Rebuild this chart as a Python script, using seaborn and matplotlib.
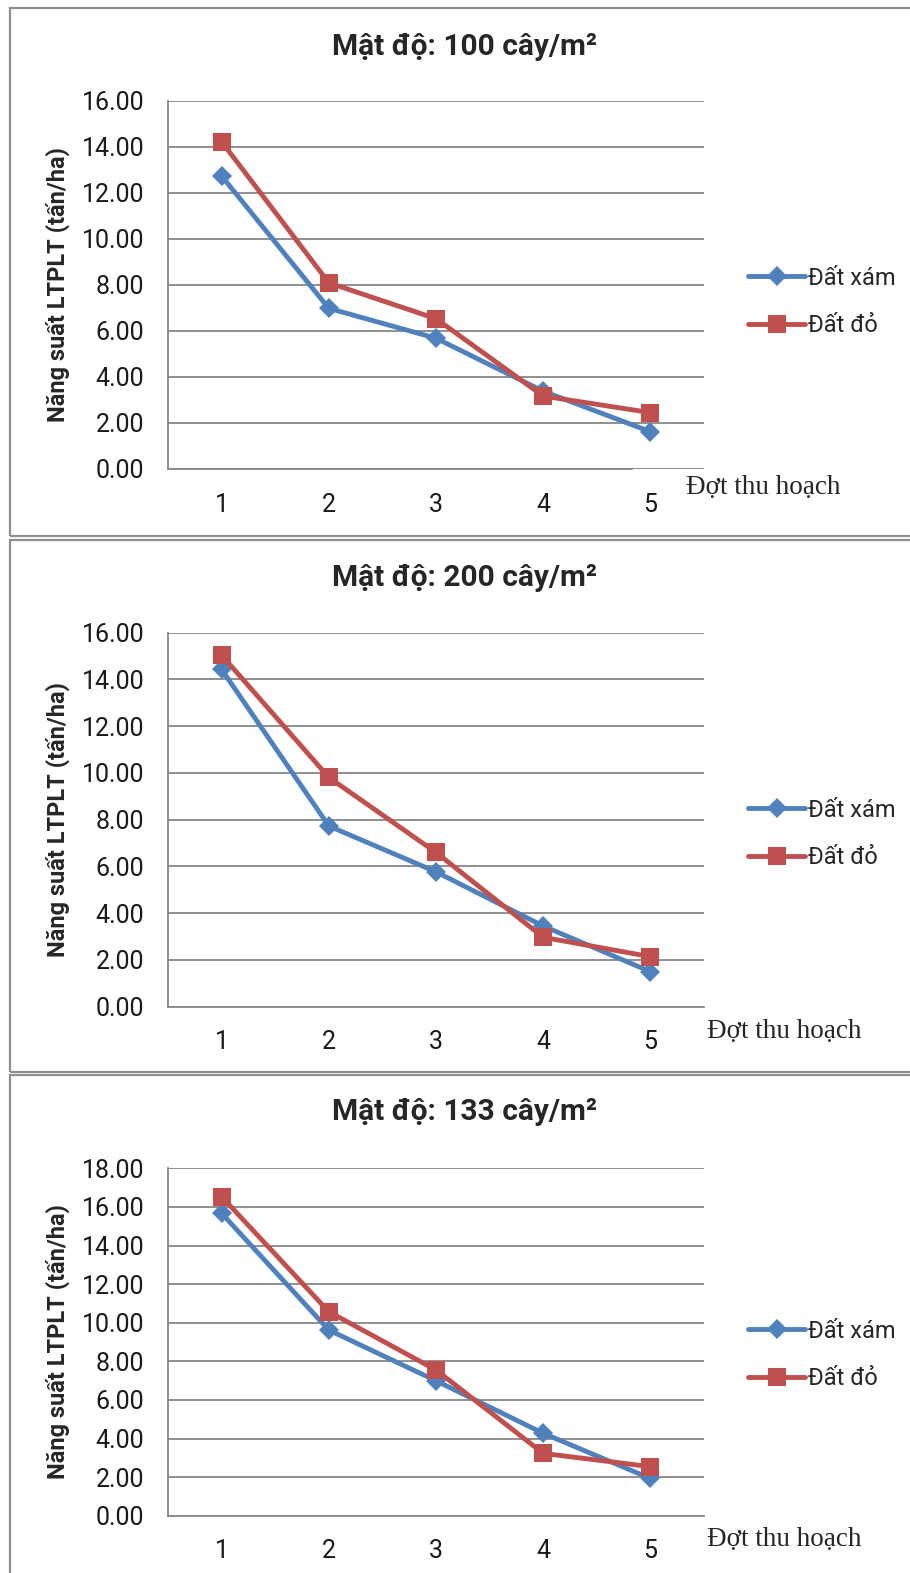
import pandas as pd
import matplotlib
matplotlib.use("Agg")
import matplotlib.pyplot as plt
from matplotlib.patches import Rectangle
import seaborn as sns

# ===========================
# DATA
# ===========================
dot_thu_hoach = [1, 2, 3, 4, 5]
series_names = ["Đất xám", "Đất đỏ"]

# mật độ 100 cây/m2
xam_100 = [12.73, 6.98, 5.68, 3.38, 1.62]
do_100 = [14.22, 8.09, 6.53, 3.17, 2.45]

# mật độ 200 cây/m2
xam_200 = [14.43, 7.73, 5.77, 3.45, 1.50]
do_200 = [15.04, 9.81, 6.60, 2.97, 2.14]

# mật độ 133 cây/m2
xam_133 = [15.67, 9.62, 6.99, 4.27, 1.93]
do_133 = [16.53, 10.57, 7.55, 3.23, 2.54]

titles = ["Mật độ: 100 cây/m²", "Mật độ: 200 cây/m²", "Mật độ: 133 cây/m²"]
ymax_list = [16, 16, 18]
y_label = "Năng suất LTPLT (tấn/ha)"
x_label = "Đợt thu hoạch"

# ===========================
# STYLE
# ===========================
sns.set_style("white")
plt.rcParams["font.family"] = ["Roboto", "DejaVu Sans"]

BLUE = "#4F81BD"
RED = "#C0504D"
GRID = "#878787"

W, H = 910, 1573


def fx(px):
    return px / W


def fy(py):
    return 1 - py / H


fig = plt.figure(figsize=(W / 100, H / 100), dpi=100)

# khung tiap panel (px): top, bottom
frames = [(8, 536), (540, 1072), (1075, 1590)]
for top, bot in frames:
    fig.patches.append(Rectangle((fx(10), fy(bot)), fx(930) - fx(10), fy(top) - fy(bot),
                                 transform=fig.transFigure, fill=False,
                                 edgecolor="#8f8f8f", linewidth=1.6))

# vi tri axes (px): left, right, top, bottom
axes_px = [(168, 704, 100.7, 469.0),
           (168, 704, 632.7, 1006.7),
           (168, 704, 1168.3, 1515.7)]
title_y = [47, 578, 1112]
legend_y = [302, 834, 1355]
xlabel_pos = [(686, 487), (707, 1032), (707, 1540)]

data_sets = [(xam_100, do_100), (xam_200, do_200), (xam_133, do_133)]

for i, (l, r, t, b) in enumerate(axes_px):
    ax = fig.add_axes([fx(l), fy(b), (r - l) / W, (b - t) / H])
    xam, do = data_sets[i]
    df = pd.DataFrame({
        "dot": dot_thu_hoach * 2,
        "nang_suat": xam + do,
        "loai_dat": [series_names[0]] * 5 + [series_names[1]] * 5,
    })
    sns.lineplot(data=df, x="dot", y="nang_suat", hue="loai_dat", style="loai_dat",
                 palette={series_names[0]: BLUE, series_names[1]: RED},
                 markers={series_names[0]: "D", series_names[1]: "s"},
                 dashes=False, linewidth=3.5, markersize=11, markeredgewidth=0,
                 ax=ax, legend=True)
    # marker size tweak: square a bit bigger than diamond
    for line in ax.lines:
        if line.get_marker() == "s":
            line.set_markersize(13.5)
        elif line.get_marker() == "D":
            line.set_markersize(10)

    ymax = ymax_list[i]
    ax.set_xlim(0.5, 5.5)
    ax.set_ylim(0, ymax)
    ax.set_yticks(range(0, ymax + 1, 2))
    ax.set_yticklabels([f"{v:.2f}" for v in range(0, ymax + 1, 2)])
    ax.set_xticks(dot_thu_hoach)
    ax.set_xticklabels([str(v) for v in dot_thu_hoach])
    ax.tick_params(axis="y", labelsize=18, length=0, pad=17, colors="#1a1a1a")
    ax.tick_params(axis="x", labelsize=18, length=0, pad=17, colors="#1a1a1a")

    ax.yaxis.grid(True, color=GRID, linewidth=1.3)
    ax.set_axisbelow(True)
    for side in ["top", "right"]:
        ax.spines[side].set_visible(False)
    for side in ["left", "bottom"]:
        ax.spines[side].set_color(GRID)
        ax.spines[side].set_linewidth(1.3)
    if i == 0:
        ax.spines["bottom"].set_bounds(0.5, 4.83)

    ax.set_ylabel(y_label, fontsize=17, fontweight="bold")
    ax.yaxis.set_label_coords((70 - l) / (r - l), 0.5)
    ax.set_xlabel("")
    fig.text(fx(xlabel_pos[i][0]), fy(xlabel_pos[i][1]), x_label,
             family=["Liberation Serif", "DejaVu Serif"], fontsize=19.5,
             ha="left", va="center")

    fig.text(fx(465), fy(title_y[i]), titles[i], fontsize=21.5, fontweight="bold",
             ha="center", va="center")

    handles, labels = ax.get_legend_handles_labels()
    ax.legend(handles, labels, loc="center left",
              bbox_to_anchor=(fx(739), fy(legend_y[i])), bbox_transform=fig.transFigure,
              frameon=False, fontsize=17, handlelength=2.4, handletextpad=0.12,
              labelspacing=1.05, borderaxespad=0)

fig.savefig("out.png", dpi=100)
